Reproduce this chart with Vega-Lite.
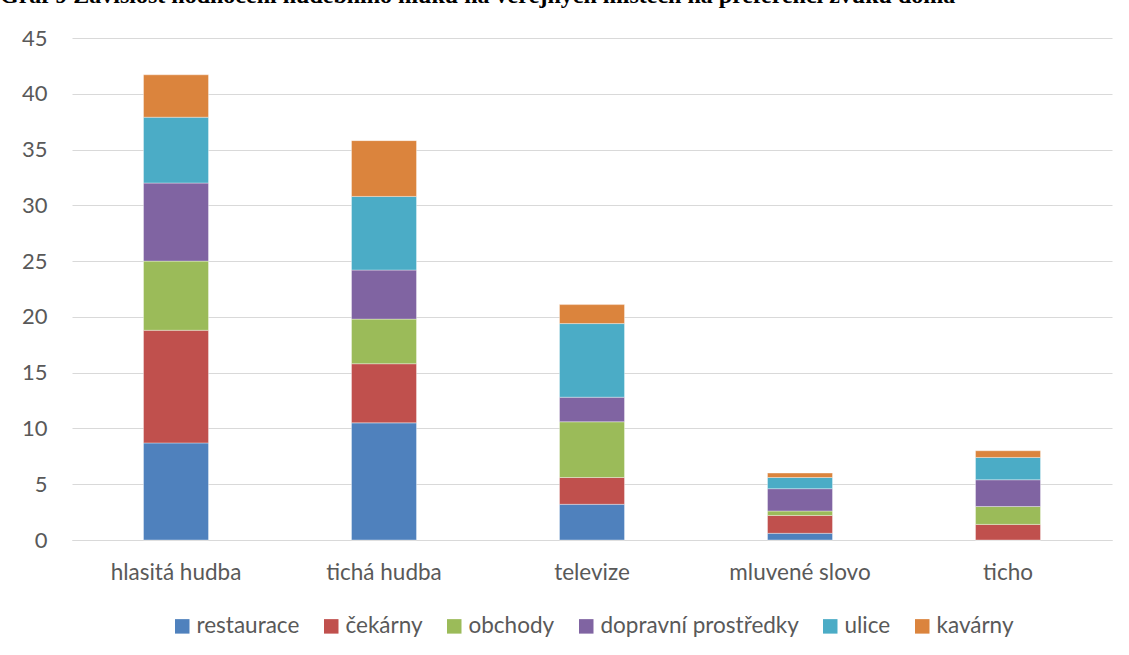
{
  "$schema": "https://vega.github.io/schema/vega-lite/v6.json",
  "autosize": "none",
  "width": 1040,
  "height": 502,
  "padding": {"left": 72, "top": 38, "right": 17, "bottom": 115},
  "background": "white",
  "title": {
    "text": "Graf 9 Závislost hodnocení hudebního hluku na veřejných místech na preferenci zvuku doma",
    "anchor": "start",
    "frame": "group",
    "dx": -72,
    "dy": -15,
    "font": "Liberation Serif",
    "fontSize": 24,
    "fontWeight": "bold",
    "color": "black"
  },
  "datasets": {
    "serie": [
      {"misto": "restaurace", "poradi": 1},
      {"misto": "čekárny", "poradi": 2},
      {"misto": "obchody", "poradi": 3},
      {"misto": "dopravní prostředky", "poradi": 4},
      {"misto": "ulice", "poradi": 5},
      {"misto": "kavárny", "poradi": 6}
    ]
  },
  "data": {
    "values": [
      {"pref": "hlasitá hudba", "misto": "restaurace", "hodnota": 8.7},
      {"pref": "hlasitá hudba", "misto": "čekárny", "hodnota": 10.1},
      {"pref": "hlasitá hudba", "misto": "obchody", "hodnota": 6.2},
      {"pref": "hlasitá hudba", "misto": "dopravní prostředky", "hodnota": 7.0},
      {"pref": "hlasitá hudba", "misto": "ulice", "hodnota": 5.9},
      {"pref": "hlasitá hudba", "misto": "kavárny", "hodnota": 3.8},
      {"pref": "tichá hudba", "misto": "restaurace", "hodnota": 10.5},
      {"pref": "tichá hudba", "misto": "čekárny", "hodnota": 5.3},
      {"pref": "tichá hudba", "misto": "obchody", "hodnota": 4.0},
      {"pref": "tichá hudba", "misto": "dopravní prostředky", "hodnota": 4.4},
      {"pref": "tichá hudba", "misto": "ulice", "hodnota": 6.6},
      {"pref": "tichá hudba", "misto": "kavárny", "hodnota": 5.0},
      {"pref": "televize", "misto": "restaurace", "hodnota": 3.2},
      {"pref": "televize", "misto": "čekárny", "hodnota": 2.4},
      {"pref": "televize", "misto": "obchody", "hodnota": 5.0},
      {"pref": "televize", "misto": "dopravní prostředky", "hodnota": 2.2},
      {"pref": "televize", "misto": "ulice", "hodnota": 6.6},
      {"pref": "televize", "misto": "kavárny", "hodnota": 1.7},
      {"pref": "mluvené slovo", "misto": "restaurace", "hodnota": 0.6},
      {"pref": "mluvené slovo", "misto": "čekárny", "hodnota": 1.6},
      {"pref": "mluvené slovo", "misto": "obchody", "hodnota": 0.4},
      {"pref": "mluvené slovo", "misto": "dopravní prostředky", "hodnota": 2.0},
      {"pref": "mluvené slovo", "misto": "ulice", "hodnota": 1.0},
      {"pref": "mluvené slovo", "misto": "kavárny", "hodnota": 0.4},
      {"pref": "ticho", "misto": "restaurace", "hodnota": 0},
      {"pref": "ticho", "misto": "čekárny", "hodnota": 1.4},
      {"pref": "ticho", "misto": "obchody", "hodnota": 1.6},
      {"pref": "ticho", "misto": "dopravní prostředky", "hodnota": 2.4},
      {"pref": "ticho", "misto": "ulice", "hodnota": 2.0},
      {"pref": "ticho", "misto": "kavárny", "hodnota": 0.6}
    ]
  },
  "transform": [
    {"lookup": "misto", "from": {"data": {"name": "serie"}, "key": "misto", "fields": ["poradi"]}}
  ],
  "mark": {"type": "bar", "stroke": "white", "strokeWidth": 0.6, "strokeOpacity": 0.6},
  "encoding": {
    "x": {
      "field": "pref",
      "type": "nominal",
      "sort": ["hlasitá hudba", "tichá hudba", "televize", "mluvené slovo", "ticho"],
      "scale": {"paddingInner": 0.6875, "paddingOuter": 0.34375},
      "axis": {
        "title": null,
        "labelAngle": 0,
        "labelFont": "Lato",
        "labelFontSize": 22.5,
        "labelColor": "#595959",
        "labelPadding": 21,
        "ticks": false,
        "domainColor": "#d9d9d9",
        "domainWidth": 1
      }
    },
    "y": {
      "field": "hodnota",
      "type": "quantitative",
      "stack": "zero",
      "scale": {"domain": [0, 45], "nice": false},
      "axis": {
        "title": null,
        "values": [0, 5, 10, 15, 20, 25, 30, 35, 40, 45],
        "labelFont": "Lato",
        "labelFontSize": 22,
        "labelColor": "#595959",
        "labelPadding": 25,
        "ticks": false,
        "domain": false,
        "gridColor": "#d9d9d9",
        "gridWidth": 1
      }
    },
    "color": {
      "field": "misto",
      "type": "nominal",
      "sort": ["restaurace", "čekárny", "obchody", "dopravní prostředky", "ulice", "kavárny"],
      "scale": {
        "domain": ["restaurace", "čekárny", "obchody", "dopravní prostředky", "ulice", "kavárny"],
        "range": ["#4F81BD", "#C0504D", "#9BBB59", "#8064A2", "#4BACC6", "#DB843D"]
      },
      "legend": {
        "title": null,
        "orient": "bottom",
        "direction": "horizontal",
        "offset": 31,
        "symbolType": "square",
        "symbolSize": 210,
        "symbolStrokeWidth": 0,
        "labelFont": "Lato",
        "labelFontSize": 22.5,
        "labelColor": "#595959",
        "labelOffset": 3,
        "labelLimit": 400,
        "columnPadding": 20
      }
    },
    "order": {"field": "poradi", "type": "quantitative", "sort": "ascending"}
  },
  "config": {
    "view": {"stroke": null},
    "legend": {"layout": {"bottom": {"anchor": "middle"}}}
  }
}
